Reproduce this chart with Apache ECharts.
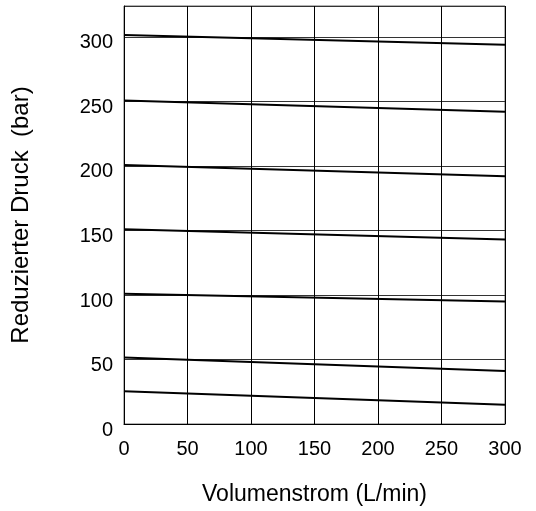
<!DOCTYPE html>
<html>
	<head>
		<meta charset="utf-8">
		<title>Reduzierter Druck</title>
		<style type="text/css">
			html, body { margin: 0; padding: 0; background: #fff; }
			#main { width: 536px; height: 511px; }
		</style>
	</head>
	<body>
		<div id="main"></div>
		<script src="https://cdn.jsdelivr.net/npm/echarts@6/dist/echarts.min.js"></script>
		<script type="text/javascript">
			var flow = [0, 300];
			var line300 = [301.5, 294];
			var line250 = [250.8, 242];
			var line200 = [200.7, 192];
			var line150 = [151, 143];
			var line100 = [101, 95];
			var line50 = [51.5, 41];
			var line25 = [25.4, 15];
			var allLines = [line300, line250, line200, line150, line100, line50, line25];

			var myChart = echarts.init(document.getElementById('main'));

			var series = allLines.map(function(vals) {
				return {
					type: 'line',
					data: vals.map(function(v, i) { return [flow[i], v]; }),
					symbol: 'none',
					lineStyle: { color: '#000', width: 2 },
					z: 5
				};
			});

			var font = 'Liberation Sans, Arial, sans-serif';

			option = {
				animation: false,
				grid: {
					left: 124,
					right: 31,
					top: 6,
					bottom: 84,
					show: true,
					borderColor: '#666',
					borderWidth: 1
				},
				xAxis: {
					type: 'value',
					min: 0,
					max: 300,
					interval: 50,
					name: 'Volumenstrom (L/min)',
					nameLocation: 'middle',
					nameGap: 59,
					nameTextStyle: { color: '#000', fontSize: 23, fontFamily: font },
					axisLine: { lineStyle: { color: '#000' } },
					axisTick: { show: false },
					axisLabel: { color: '#000', fontSize: 20, fontFamily: font, margin: 15 },
					splitLine: { show: true, lineStyle: { color: '#000', width: 1 } }
				},
				yAxis: {
					type: 'value',
					min: 0,
					max: 324,
					interval: 50,
					name: 'Reduzierter Druck  (bar)',
					nameLocation: 'middle',
					nameGap: 91,
					nameTextStyle: { color: '#000', fontSize: 24, fontFamily: font },
					axisLine: { show: true, lineStyle: { color: '#000' } },
					axisTick: { show: false },
					axisLabel: {
						color: '#000', fontSize: 20, fontFamily: font, margin: 11,
						verticalAlign: 'top', lineHeight: 12,
						formatter: function(v) { return v % 50 === 0 ? String(v) : ''; }
					},
					splitLine: { show: true, lineStyle: { color: '#333', width: 1 } }
				},
				series: series
			};
			myChart.setOption(option);
		</script>
	</body>
</html>
